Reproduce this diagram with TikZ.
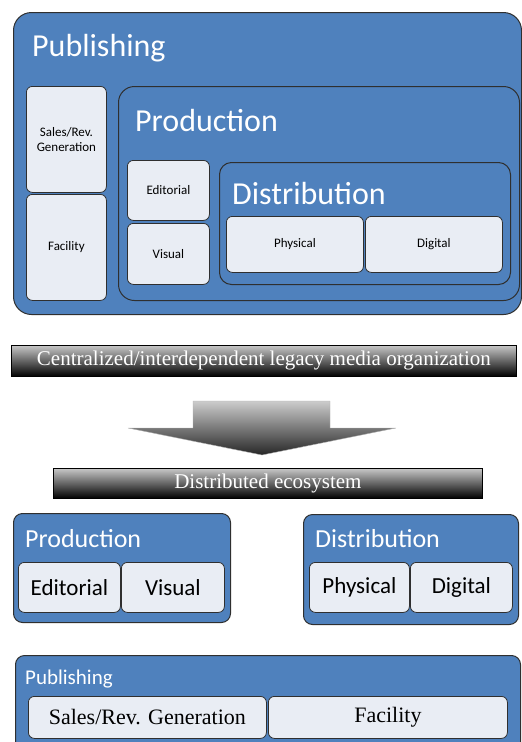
\documentclass[tikz,border=0pt]{standalone}
\usepackage{fontspec}
\setsansfont{Carlito}
\setmainfont{Liberation Serif}
\usepackage{tikz}
\usetikzlibrary{positioning}

\definecolor{boxblue}{HTML}{4F81BD}
\definecolor{paperfill}{HTML}{E9EDF4}
\definecolor{edgegray}{HTML}{2F2F2F}

\tikzset{
  bluebox/.style={draw=edgegray, fill=boxblue, line width=1pt, anchor=north west, inner sep=0pt},
  paper/.style={draw=edgegray, fill=paperfill, line width=0.8pt, rounded corners=6pt,
    anchor=north west, inner sep=0pt, align=center, font=\sffamily\fontsize{13}{15}\selectfont},
  bigpaper/.style={paper, font=\sffamily\fontsize{23}{26}\selectfont},
  serifpaper/.style={paper, font=\rmfamily\fontsize{22}{24}\selectfont},
  title/.style={anchor=base west, text=white, inner sep=0pt, font=\sffamily\fontsize{#1}{#1}\selectfont},
  bar/.style={draw=black, line width=0.8pt, top color=black!22, bottom color=black,
    anchor=north west, inner sep=0pt, text=white, font=\rmfamily\fontsize{21}{24}\selectfont}
}

\begin{document}
\begin{tikzpicture}[x=1pt, y=-1pt]
    \useasboundingbox (0,0) rectangle (522,742);
    \clip (0,0) rectangle (522,742);

    % legacy organization
    \node[bluebox, rounded corners=18pt, minimum width=508, minimum height=302] (pub) at (13,12) {};
    \node[title=32] (pubt) at (32,56) {Publishing};
    \node[paper, minimum width=80, minimum height=106] (sales) at (26,86) {Sales/Rev.\\Generation};
    \node[paper, minimum width=80, minimum height=106] (fac) at (26,194) {Facility};

    \node[bluebox, rounded corners=16pt, minimum width=401, minimum height=214] (prod) at (118,86) {};
    \node[title=32] (prodt) at (135,131) {Production};
    \node[paper, minimum width=82, minimum height=60] (edit) at (127,160) {Editorial};
    \node[paper, minimum width=82, minimum height=61] (vis) at (127,223) {Visual};

    \node[bluebox, rounded corners=12pt, minimum width=291, minimum height=122] (dist) at (219,162) {};
    \node[title=32] (distt) at (232,204) {Distribution};
    \node[paper, minimum width=137, minimum height=56] (phys) at (226,216) {Physical};
    \node[paper, minimum width=137, minimum height=56] (dig) at (365,216) {Digital};

    % transition
    \node[bar, minimum width=505, minimum height=31] (legacy) at (11,345) {Centralized/interdependent legacy media organization};
    \shade[top color=black!20, bottom color=black!85, draw=black!30, line width=0.4pt]
      (193,401) -- (330,401) -- (330,428) -- (396,428) -- (262,455) -- (128,428) -- (193,428) -- cycle;
    \node[bar, minimum width=429, minimum height=30] (eco) at (53,468) {Distributed ecosystem};

    % distributed ecosystem
    \node[bluebox, rounded corners=9pt, minimum width=217, minimum height=109] (prod2) at (13,513) {};
    \node[title=26] (prod2t) at (25,547) {Production};
    \node[bigpaper, minimum width=102, minimum height=50] (edit2) at (18,562) {Editorial};
    \node[bigpaper, minimum width=103, minimum height=50] (vis2) at (121,562) {Visual};

    \node[bluebox, rounded corners=9pt, minimum width=215, minimum height=110] (dist2) at (303,514) {};
    \node[title=26] (dist2t) at (315,547) {Distribution};
    \node[bigpaper, minimum width=100, minimum height=50] (phys2) at (309,562) {Physical};
    \node[bigpaper, minimum width=102, minimum height=50] (dig2) at (410,562) {Digital};

    \node[bluebox, rounded corners=9pt, minimum width=505, minimum height=110] (pub2) at (15,655) {};
    \node[title=21] (pub2t) at (25,684) {Publishing};
    \node[serifpaper, minimum width=238, minimum height=42] (sales2) at (28,696) {Sales/Rev. Generation};
    \node[serifpaper, minimum width=239, minimum height=42] (fac2) at (268,696) {Facility};
\end{tikzpicture}
\end{document}
